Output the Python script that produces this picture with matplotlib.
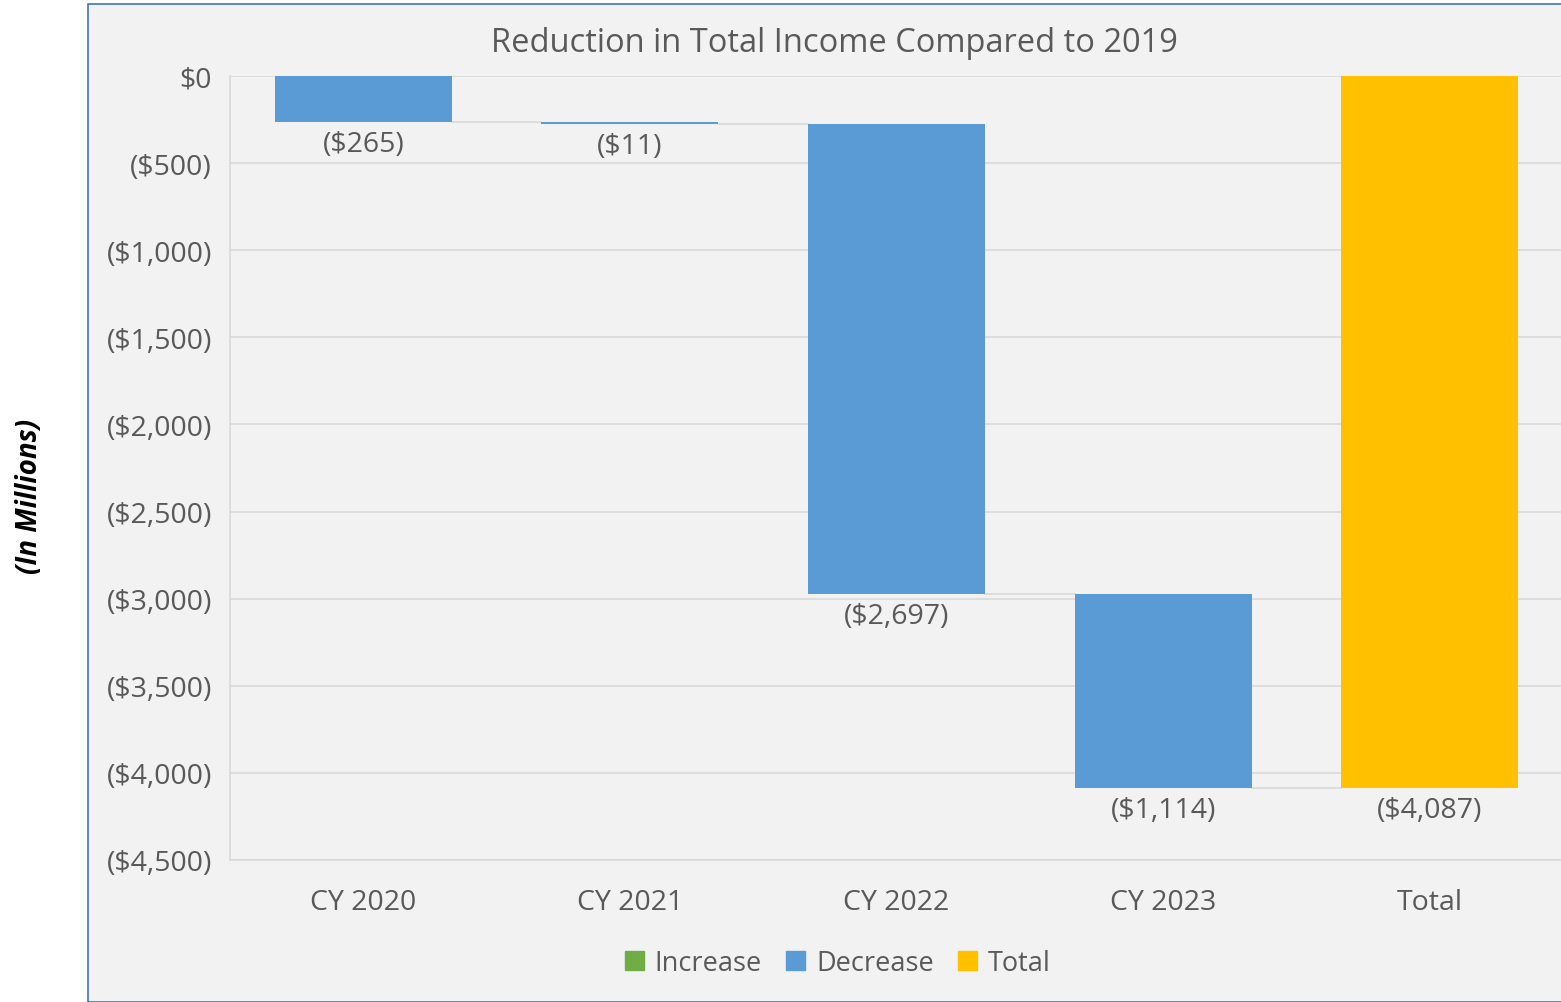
import matplotlib.pyplot as plt
from matplotlib.patches import Rectangle, Patch
import numpy as np

plt.rcParams['font.family'] = ['Open Sans', 'DejaVu Sans']

categories = ["CY 2020", "CY 2021", "CY 2022", "CY 2023", "Total"]
changes = [-265, -11, -2697, -1114]
total = -4087
labels = ["($265)", "($11)", "($2,697)", "($1,114)", "($4,087)"]
yticks = [0, -500, -1000, -1500, -2000, -2500, -3000, -3500, -4000, -4500]
ytick_labels = ["$0", "($500)", "($1,000)", "($1,500)", "($2,000)", "($2,500)",
                "($3,000)", "($3,500)", "($4,000)", "($4,500)"]

blue = "#5B9BD5"
gold = "#FFC000"
green = "#70AD47"
text_c = "#595959"
bg = "#F2F2F2"

fig = plt.figure(figsize=(15.61, 10.03), dpi=100)
# chart area background with blue border on left/top
fig.patches.append(Rectangle((88 / 1561, 0), 1, 1 - 5 / 1003, transform=fig.transFigure,
                             facecolor=bg, edgecolor="#4472C4", linewidth=1.2, zorder=-5))

ax = fig.add_axes([230 / 1561, 142 / 1003, 1333 / 1561, 784 / 1003])
ax.set_facecolor("none")

x = np.arange(len(categories))
width = 0.664
starts = np.concatenate([[0], np.cumsum(changes)[:-1]])
ends = np.cumsum(changes)

ax.bar(x[:4], changes, bottom=starts, width=width, color=blue, zorder=3)
ax.bar(x[4], total, width=width, color=gold, zorder=3)

# connectors
for i in range(4):
    ax.plot([x[i] + width / 2, x[i + 1] - width / 2], [ends[i], ends[i]],
            color="#D9D9D9", linewidth=1.2, zorder=2)

bottoms = list(ends) + [total]
for i in range(5):
    ax.text(x[i], bottoms[i] - 45, labels[i], ha="center", va="top",
            fontsize=20.5, color=text_c)

ax.set_xlim(-0.5, 4.5)
ax.set_ylim(-4500, 0)
ax.set_yticks(yticks)
ax.set_yticklabels(ytick_labels)
ax.set_xticks(x)
ax.set_xticklabels(categories)
ax.tick_params(axis="both", length=0, labelsize=20.5, labelcolor=text_c)
ax.tick_params(axis="y", pad=13)
ax.tick_params(axis="x", pad=20)
ax.grid(axis="y", color="#D9D9D9", linewidth=1.2, zorder=0)
for s in ["top", "right"]:
    ax.spines[s].set_visible(False)
for s in ["left", "bottom"]:
    ax.spines[s].set_color("#D9D9D9")
    ax.spines[s].set_linewidth(1.2)

fig.text(834 / 1561, 1 - 44 / 1003, "Reduction in Total Income Compared to 2019",
         ha="center", va="center", fontsize=23.5, color=text_c)
fig.text(30 / 1561, 1 - 496 / 1003, "(In Millions)", rotation=90, ha="center", va="center",
         fontsize=20, fontweight="bold", fontstyle="italic", color="black")

handles = [Patch(color=green, label="Increase"), Patch(color=blue, label="Decrease"),
           Patch(color=gold, label="Total")]
fig.legend(handles=handles, loc="center", bbox_to_anchor=(838 / 1561, 1 - 964 / 1003),
           ncol=3, frameon=False, fontsize=19.5, labelcolor=text_c, handlelength=0.7,
           handleheight=0.7, handletextpad=0.4, columnspacing=0.9)

fig.savefig("out.png", dpi=100)
